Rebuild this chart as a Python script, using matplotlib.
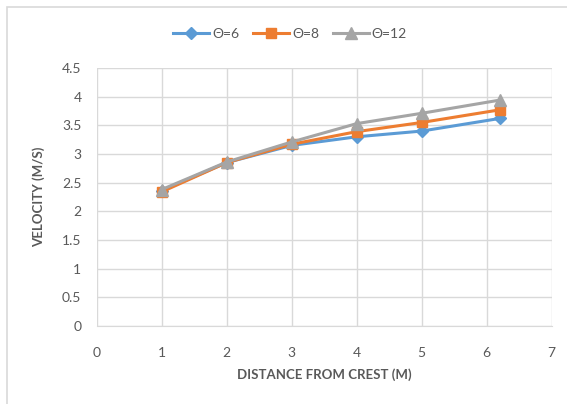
import matplotlib
matplotlib.use("Agg")
import matplotlib.pyplot as plt
from matplotlib.patches import Rectangle

# ---------------------------------------------------------------
# Data
# ---------------------------------------------------------------
distance = [1, 2, 3, 4, 5, 6.2]
vel_6 = [2.36, 2.85, 3.15, 3.30, 3.40, 3.62]
vel_8 = [2.34, 2.85, 3.17, 3.39, 3.55, 3.77]
vel_12 = [2.38, 2.86, 3.21, 3.53, 3.71, 3.94]
labels = ["Θ=6", "Θ=8", "Θ=12"]

x_ticks = [0, 1, 2, 3, 4, 5, 6, 7]
y_ticks = [0, 0.5, 1, 1.5, 2, 2.5, 3, 3.5, 4, 4.5]

# ---------------------------------------------------------------
# Plot
# ---------------------------------------------------------------
plt.rcParams['font.family'] = ['Lato', 'DejaVu Sans']
grid_c = "#d9d9d9"
text_c = "#595959"

fig = plt.figure(figsize=(5.67, 4.04), dpi=100)
fig.patches.append(Rectangle((7 / 567, -0.01), 1.0, 1 - 7 / 404 + 0.01,
                             transform=fig.transFigure, fill=False,
                             ec="#d9d9d9", lw=1.2))

ax = fig.add_axes([96.7 / 567, (404 - 326) / 404, 455 / 567, 258 / 404])

ax.plot(distance, vel_6, color="#5b9bd5", lw=2.2, marker="D", ms=6, label=labels[0])
ax.plot(distance, vel_8, color="#ed7d31", lw=2.2, marker="s", ms=7.5, label=labels[1])
ax.plot(distance, vel_12, color="#a5a5a5", lw=2.2, marker="^", ms=8, label=labels[2])

ax.set_xlim(0, 7)
ax.set_ylim(0, 4.5)
ax.set_xticks(x_ticks)
ax.set_yticks(y_ticks)
ax.set_yticklabels([f"{v:g}" for v in y_ticks])
ax.grid(True, color=grid_c, lw=1)
ax.set_axisbelow(True)
for s in ["top", "right", "left"]:
    ax.spines[s].set_visible(False)
ax.spines["bottom"].set_color(grid_c)
ax.tick_params(length=0, labelsize=10, labelcolor=text_c)
ax.tick_params(axis="y", pad=11)
ax.tick_params(axis="x", pad=15)

ax.set_xlabel("DISTANCE FROM CREST (M)", fontsize=9.5, fontweight="bold", color=text_c, labelpad=7)
ax.set_ylabel("VELOCITY (M/S)", fontsize=9.5, fontweight="bold", color=text_c, labelpad=12)

fig.legend(loc="center", bbox_to_anchor=(290 / 567, 1 - 34 / 404), ncol=3, frameon=False,
           fontsize=10, labelcolor=text_c, handlelength=2.6, columnspacing=1.0,
           handletextpad=0.2)

fig.savefig("out.png", dpi=100)
